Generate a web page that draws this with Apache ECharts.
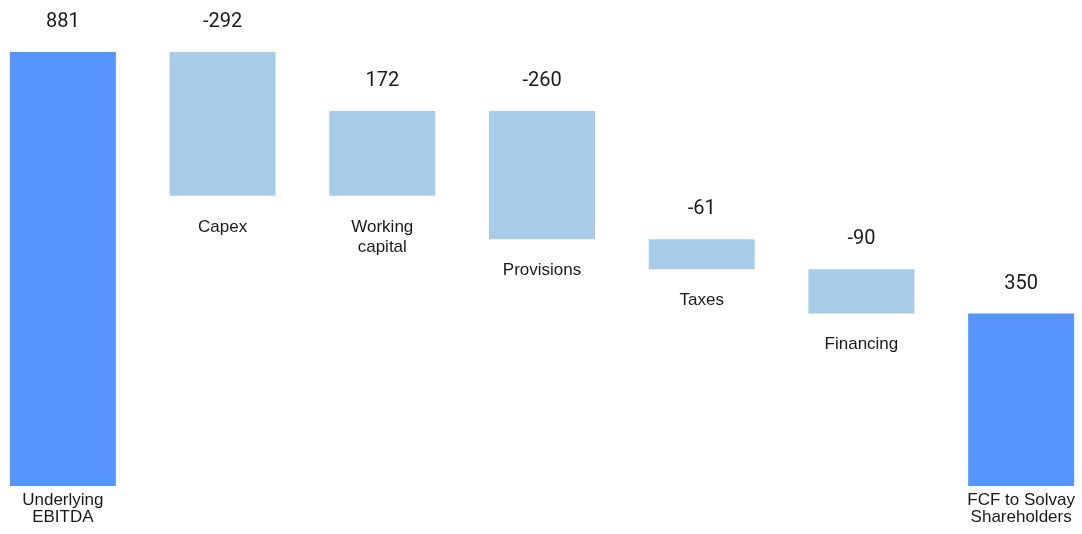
<!DOCTYPE html>
<html>
<head>
<meta charset="utf-8">
<script src="https://cdn.jsdelivr.net/npm/echarts@6/dist/echarts.min.js"></script>
<style>html,body{margin:0;padding:0;background:#fff}#c{width:1082px;height:534px}</style>
</head>
<body>
<div id="c"></div>
<script>
const categories = ['Underlying\nEBITDA', 'Capex', 'Working\ncapital', 'Provisions', 'Taxes', 'Financing', 'FCF to Solvay\nShareholders'];
const values = [881, -292, 172, -260, -61, -90, 350];
const isTotal = [true, false, false, false, false, false, true];

// derive waterfall base / visible heights
const base = [], vis = [];
let run = 0;
values.forEach((v, i) => {
  if (isTotal[i]) { base.push(0); vis.push(v); run = v; }
  else if (v >= 0) { base.push(run); vis.push(v); run += v; }
  else { run += v; base.push(run); vis.push(-v); }
});

const TOTAL_COLOR = '#5794FB';
const DELTA_COLOR = '#A8CCE7';

const chart = echarts.init(document.getElementById('c'));
chart.setOption({
  animation: false,
  grid: { left: -17, right: -19, top: 52, bottom: 48, outerBoundsMode: 'none', containLabel: false },
  xAxis: { type: 'category', data: categories, show: false },
  yAxis: { type: 'value', min: 0, max: 881, show: false },
  series: [
    {
      type: 'bar', stack: 'w', barWidth: 106,
      itemStyle: { color: 'transparent' },
      data: base.map((b, i) => ({
        value: b,
        label: {
          show: true, position: 'insideTop',
          distance: isTotal[i] ? 6 : 21,
          formatter: categories[i],
          fontFamily: 'Liberation Sans, Arial, sans-serif',
          fontSize: 17, lineHeight: isTotal[i] ? 17 : 20, color: '#1a1a1a', align: 'center'
        }
      }))
    },
    {
      type: 'bar', stack: 'w', barWidth: 106,
      data: vis.map((v, i) => ({
        value: v,
        itemStyle: { color: isTotal[i] ? TOTAL_COLOR : DELTA_COLOR },
        label: {
          show: true, position: 'top', distance: 20,
          formatter: String(values[i]),
          fontFamily: 'Roboto, sans-serif', fontSize: 20, color: '#1a1a1a'
        }
      }))
    }
  ]
});
</script>
</body>
</html>
